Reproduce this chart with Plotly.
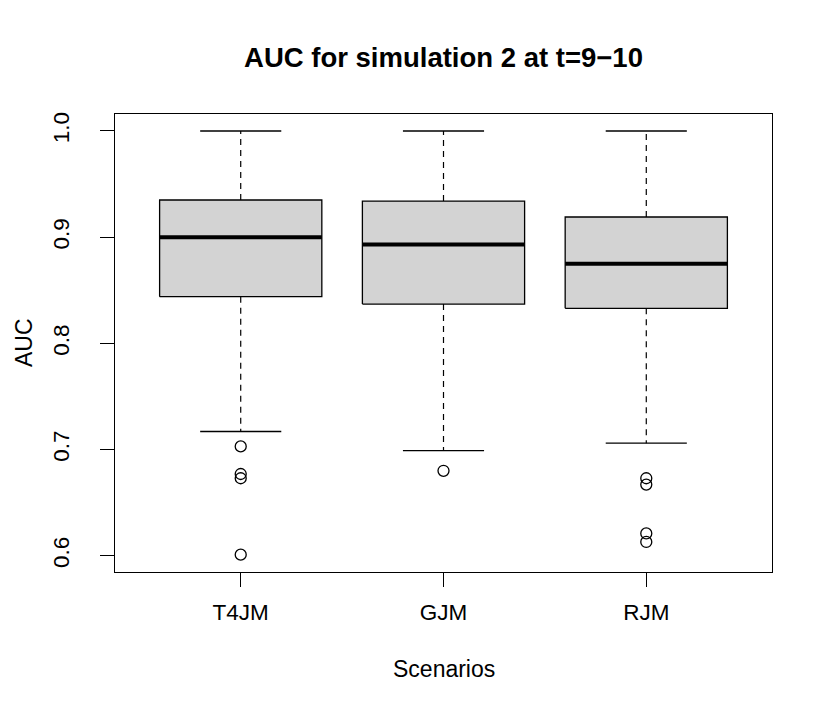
import plotly.graph_objects as go

# ---- data ----
categories = ["T4JM", "GJM", "RJM"]
q1_vals = [0.844, 0.837, 0.833]
median_vals = [0.900, 0.893, 0.875]
q3_vals = [0.935, 0.934, 0.919]
upper_whisker = [1.0, 1.0, 1.0]
lower_whisker = [0.717, 0.699, 0.706]
outlier_vals = [
    [0.703, 0.677, 0.673, 0.601],
    [0.680],
    [0.673, 0.667, 0.621, 0.613],
]
y_ticks = [0.6, 0.7, 0.8, 0.9, 1.0]
y_tick_labels = ["0.6", "0.7", "0.8", "0.9", "1.0"]

# ---- styling ----
FONT = "Liberation Sans, Arial, Helvetica, sans-serif"
BOX_HALF = 0.4
CAP_HALF = 0.2
FILL = "#D3D3D3"
OFF = 8  # page body margin offset

fig = go.Figure()

for i, cat in enumerate(categories):
    xc = i + 1
    fig.add_trace(go.Scatter(
        x=[xc - BOX_HALF, xc + BOX_HALF, xc + BOX_HALF, xc - BOX_HALF, xc - BOX_HALF],
        y=[q1_vals[i], q1_vals[i], q3_vals[i], q3_vals[i], q1_vals[i]],
        mode="lines", fill="toself", fillcolor=FILL,
        line=dict(color="black", width=1.3), hoverinfo="skip", showlegend=False))
    fig.add_trace(go.Scatter(
        x=[xc - BOX_HALF, xc + BOX_HALF], y=[median_vals[i], median_vals[i]],
        mode="lines", line=dict(color="black", width=4), showlegend=False))
    fig.add_trace(go.Scatter(
        x=[xc, xc, None, xc, xc],
        y=[q3_vals[i], upper_whisker[i], None, q1_vals[i], lower_whisker[i]],
        mode="lines", line=dict(color="black", width=1.2, dash="6px,5px"),
        showlegend=False))
    fig.add_trace(go.Scatter(
        x=[xc - CAP_HALF, xc + CAP_HALF, None, xc - CAP_HALF, xc + CAP_HALF],
        y=[upper_whisker[i], upper_whisker[i], None, lower_whisker[i], lower_whisker[i]],
        mode="lines", line=dict(color="black", width=1.3), showlegend=False))
    fig.add_trace(go.Scatter(
        x=[xc] * len(outlier_vals[i]), y=outlier_vals[i],
        mode="markers",
        marker=dict(symbol="circle-open", size=11, color="black", line=dict(width=1.3)),
        showlegend=False))

fig.update_layout(
    width=830, height=714,
    margin=dict(l=115 - OFF, r=830 + OFF - 772, t=114 - OFF, b=714 + OFF - 572, pad=0),
    paper_bgcolor="white", plot_bgcolor="white",
    font=dict(family=FONT, size=22.5, color="black"),
    showlegend=False,
    title=dict(text="<b>AUC for simulation 2 at t=9\u221210</b>",
               x=((115 + 772) / 2 - OFF) / 830, xanchor="center",
               y=1 - (57 - OFF) / 714, yanchor="middle", yref="container",
               font=dict(family=FONT, size=27.5, color="black")),
    xaxis=dict(range=[0.38, 3.62], tickvals=[1, 2, 3], ticktext=categories,
               showgrid=False, zeroline=False, showline=True, mirror=True,
               linecolor="black", linewidth=1.3,
               ticks="outside", ticklen=14, tickwidth=1.3, tickcolor="black",
               tickfont=dict(size=22.5), ticklabelstandoff=6),
    yaxis=dict(range=[0.5847, 1.016], tickvals=y_ticks, ticktext=y_tick_labels,
               showgrid=False, zeroline=False, showline=True, mirror=True,
               linecolor="black", linewidth=1.3,
               ticks="outside", ticklen=14, tickwidth=1.3, tickcolor="black",
               tickangle=-90, tickfont=dict(size=22.5), ticklabelstandoff=22),
    annotations=[
        dict(text="Scenarios", xref="paper", yref="paper", x=0.5, y=0,
             xanchor="center", yanchor="middle", yshift=-(669 - 572),
             showarrow=False, font=dict(size=23)),
        dict(text="AUC", xref="paper", yref="paper", x=0, y=0.5,
             xanchor="center", yanchor="middle", xshift=-(115 - 24),
             textangle=-90, showarrow=False, font=dict(size=23)),
    ],
)

fig.write_html("out.html")
